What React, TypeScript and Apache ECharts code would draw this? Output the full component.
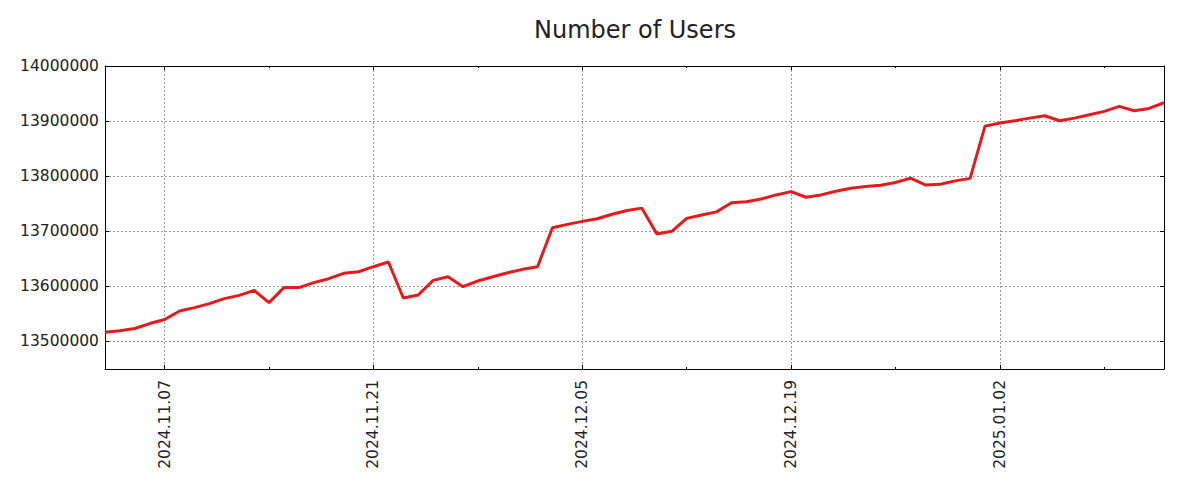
import React, { useEffect, useRef } from "react";
import * as echarts from "echarts";

const dates: string[] = [
  "2024.11.03","2024.11.04","2024.11.05","2024.11.06","2024.11.07","2024.11.08","2024.11.09","2024.11.10",
  "2024.11.11","2024.11.12","2024.11.13","2024.11.14","2024.11.15","2024.11.16","2024.11.17","2024.11.18",
  "2024.11.19","2024.11.20","2024.11.21","2024.11.22","2024.11.23","2024.11.24","2024.11.25","2024.11.26",
  "2024.11.27","2024.11.28","2024.11.29","2024.11.30","2024.12.01","2024.12.02","2024.12.03","2024.12.04",
  "2024.12.05","2024.12.06","2024.12.07","2024.12.08","2024.12.09","2024.12.10","2024.12.11","2024.12.12",
  "2024.12.13","2024.12.14","2024.12.15","2024.12.16","2024.12.17","2024.12.18","2024.12.19","2024.12.20",
  "2024.12.21","2024.12.22","2024.12.23","2024.12.24","2024.12.25","2024.12.26","2024.12.27","2024.12.28",
  "2024.12.29","2024.12.30","2024.12.31","2025.01.01","2025.01.02","2025.01.03","2025.01.04","2025.01.05",
  "2025.01.06","2025.01.07","2025.01.08","2025.01.09","2025.01.10","2025.01.11","2025.01.12","2025.01.13",
];

const users: number[] = [
  13516500, 13519300, 13523500, 13532500, 13539800, 13555400, 13561400, 13568700,
  13577700, 13583700, 13592800, 13570500, 13597800, 13597800, 13606700, 13613900,
  13623600, 13626600, 13635700, 13644200, 13578800, 13584300, 13610900, 13617500,
  13599400, 13609700, 13617500, 13624800, 13630900, 13635700, 13706500, 13712500,
  13718000, 13722800, 13731000, 13737600, 13742000, 13695000, 13700000, 13723400,
  13729600, 13735200, 13751800, 13753700, 13758600, 13766000, 13772000, 13761800,
  13766000, 13772700, 13778200, 13781200, 13783600, 13788500, 13796400, 13784200,
  13785500, 13791500, 13796000, 13890900, 13896400, 13900600, 13905400, 13909700,
  13900600, 13905400, 13911500, 13917600, 13926700, 13918800, 13923000, 13933300,
];

const title = "Number of Users";
const yMin = 13450000;
const yMax = 14000000;

const FONT = "DejaVu Sans";
const isMajor = (i: number) => (i - 4) % 14 === 0 && i >= 4;
const isMinor = (i: number) => (i - 4) % 7 === 0 && i >= 4 && !isMajor(i);

export default function App() {
  const ref = useRef<HTMLDivElement>(null);
  useEffect(() => {
    if (!ref.current) return;
    const chart = echarts.init(ref.current, undefined, { renderer: "svg" });
    const grid = { left: 105, right: 36, top: 66, bottom: 131 };
    const gridLine = { show: true, lineStyle: { color: "#9a9a9a", width: 1, type: [2, 2] as any } };
    const axisLine = { show: true, onZero: false, lineStyle: { color: "#000", width: 1 } };
    chart.setOption({
      animation: false,
      backgroundColor: "#fff",
      textStyle: { fontFamily: FONT },
      graphic: [
        {
          type: "text",
          x: 635,
          y: 30,
          style: {
            text: title,
            fontFamily: FONT,
            fontSize: 24,
            fill: "#222",
            textAlign: "center",
            textVerticalAlign: "middle",
          },
        },
      ],
      grid,
      xAxis: [
        {
          type: "category",
          data: dates,
          boundaryGap: false,
          position: "bottom",
          axisLine,
          axisTick: { show: true, inside: true, length: 4, interval: (i: number) => isMajor(i), lineStyle: { color: "#000" } },
          axisLabel: {
            interval: (i: number) => isMajor(i),
            rotate: 90,
            margin: 11,
            fontFamily: FONT,
            fontSize: 15.5,
            color: "#222",
          },
          splitLine: { ...gridLine, interval: (i: number) => isMajor(i) },
        },
        {
          type: "category",
          data: dates,
          boundaryGap: false,
          position: "top",
          axisLine,
          axisTick: { show: true, inside: true, length: 4, interval: (i: number) => isMajor(i), lineStyle: { color: "#000" } },
          axisLabel: { show: false },
          splitLine: { show: false },
        },
        {
          type: "category",
          data: dates,
          boundaryGap: false,
          position: "bottom",
          axisLine: { show: false },
          axisTick: { show: true, inside: true, length: 2, interval: (i: number) => isMinor(i), lineStyle: { color: "#000" } },
          axisLabel: { show: false },
          splitLine: { show: false },
        },
        {
          type: "category",
          data: dates,
          boundaryGap: false,
          position: "top",
          axisLine: { show: false },
          axisTick: { show: true, inside: true, length: 2, interval: (i: number) => isMinor(i), lineStyle: { color: "#000" } },
          axisLabel: { show: false },
          splitLine: { show: false },
        },
      ],
      yAxis: [
        {
          type: "value",
          min: yMin,
          max: yMax,
          minInterval: 100000,
          maxInterval: 100000,
          position: "left",
          axisLine,
          axisTick: { show: true, inside: true, length: 4, lineStyle: { color: "#000" } },
          axisLabel: {
            showMinLabel: false,
            margin: 6,
            fontFamily: FONT,
            fontSize: 15.5,
            color: "#222",
            formatter: (v: number) => String(Math.round(v)),
          },
          splitLine: gridLine,
        },
        {
          type: "value",
          min: yMin,
          max: yMax,
          minInterval: 100000,
          maxInterval: 100000,
          position: "right",
          axisLine,
          axisTick: { show: true, inside: true, length: 4, lineStyle: { color: "#000" } },
          axisLabel: { show: false },
          splitLine: { show: false },
        },
      ],
      series: [
        {
          type: "line",
          xAxisIndex: 0,
          yAxisIndex: 0,
          data: users,
          showSymbol: false,
          symbol: "none",
          lineStyle: { color: "#e41a1c", width: 3 },
          z: 5,
        },
      ],
    });
    return () => chart.dispose();
  }, []);
  return (
    <div
      ref={ref}
      style={{ position: "fixed", left: 0, top: 0, width: 1200, height: 500, background: "#fff" }}
    />
  );
}
